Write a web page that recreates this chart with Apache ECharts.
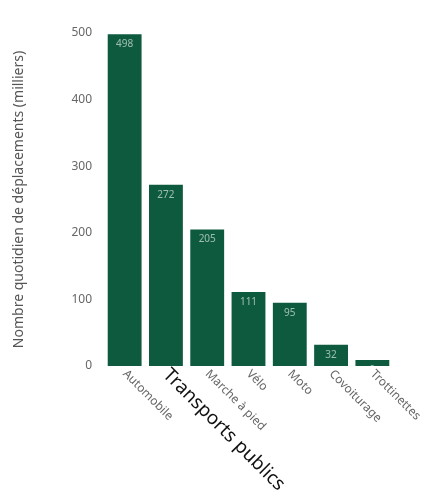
<!DOCTYPE html>
<html>
<head>
<meta charset="utf-8">
<script src="https://cdn.jsdelivr.net/npm/echarts@6/dist/echarts.min.js"></script>
<style>html,body{margin:0;padding:0;background:#fff;}#c{width:427px;height:501px;}</style>
</head>
<body>
<div id="c"></div>
<script>
const categories = ["Automobile", "Transports publics", "Marche à pied", "Vélo", "Moto", "Covoiturage", "Trottinettes"];
const values = [498, 272, 205, 111, 95, 32, 9];
const yTicks = [0, 100, 200, 300, 400, 500];
const yTitle = "Nombre quotidien de déplacements (milliers)";
const highlightIndex = 1;

const chart = echarts.init(document.getElementById('c'));
chart.setOption({
  backgroundColor: '#ffffff',
  animation: false,
  grid: { left: 104, right: 34, top: 33, bottom: 135 },
  xAxis: {
    type: 'category',
    data: categories,
    axisLine: { show: false },
    axisTick: { show: false },
    axisLabel: {
      rotate: -45,
      interval: 0,
      margin: 6,
      color: '#666',
      fontSize: 12,
      fontFamily: 'Noto Sans',
      formatter: (v, i) => i === highlightIndex ? '{hl|' + v + '}' : v,
      rich: {
        hl: { color: '#111', fontSize: 19, fontFamily: 'Noto Sans', backgroundColor: '#fff' }
      }
    }
  },
  yAxis: {
    type: 'value',
    min: yTicks[0],
    max: yTicks[yTicks.length - 1],
    interval: yTicks[1] - yTicks[0],
    name: yTitle,
    nameLocation: 'middle',
    nameGap: 78,
    nameTextStyle: { color: '#555', fontSize: 14, fontFamily: 'Noto Sans' },
    axisLine: { show: false },
    axisTick: { show: false },
    splitLine: { show: false },
    axisLabel: { color: '#666', fontSize: 12, margin: 12, fontFamily: 'Noto Sans' }
  },
  series: [{
    type: 'bar',
    data: values,
    barCategoryGap: '18%',
    itemStyle: { color: '#0d5a3e' },
    label: {
      show: true,
      position: 'insideTop',
      color: 'rgba(255,255,255,0.6)',
      fontSize: 10,
      fontFamily: 'Noto Sans'
    }
  }]
});
</script>
</body>
</html>
